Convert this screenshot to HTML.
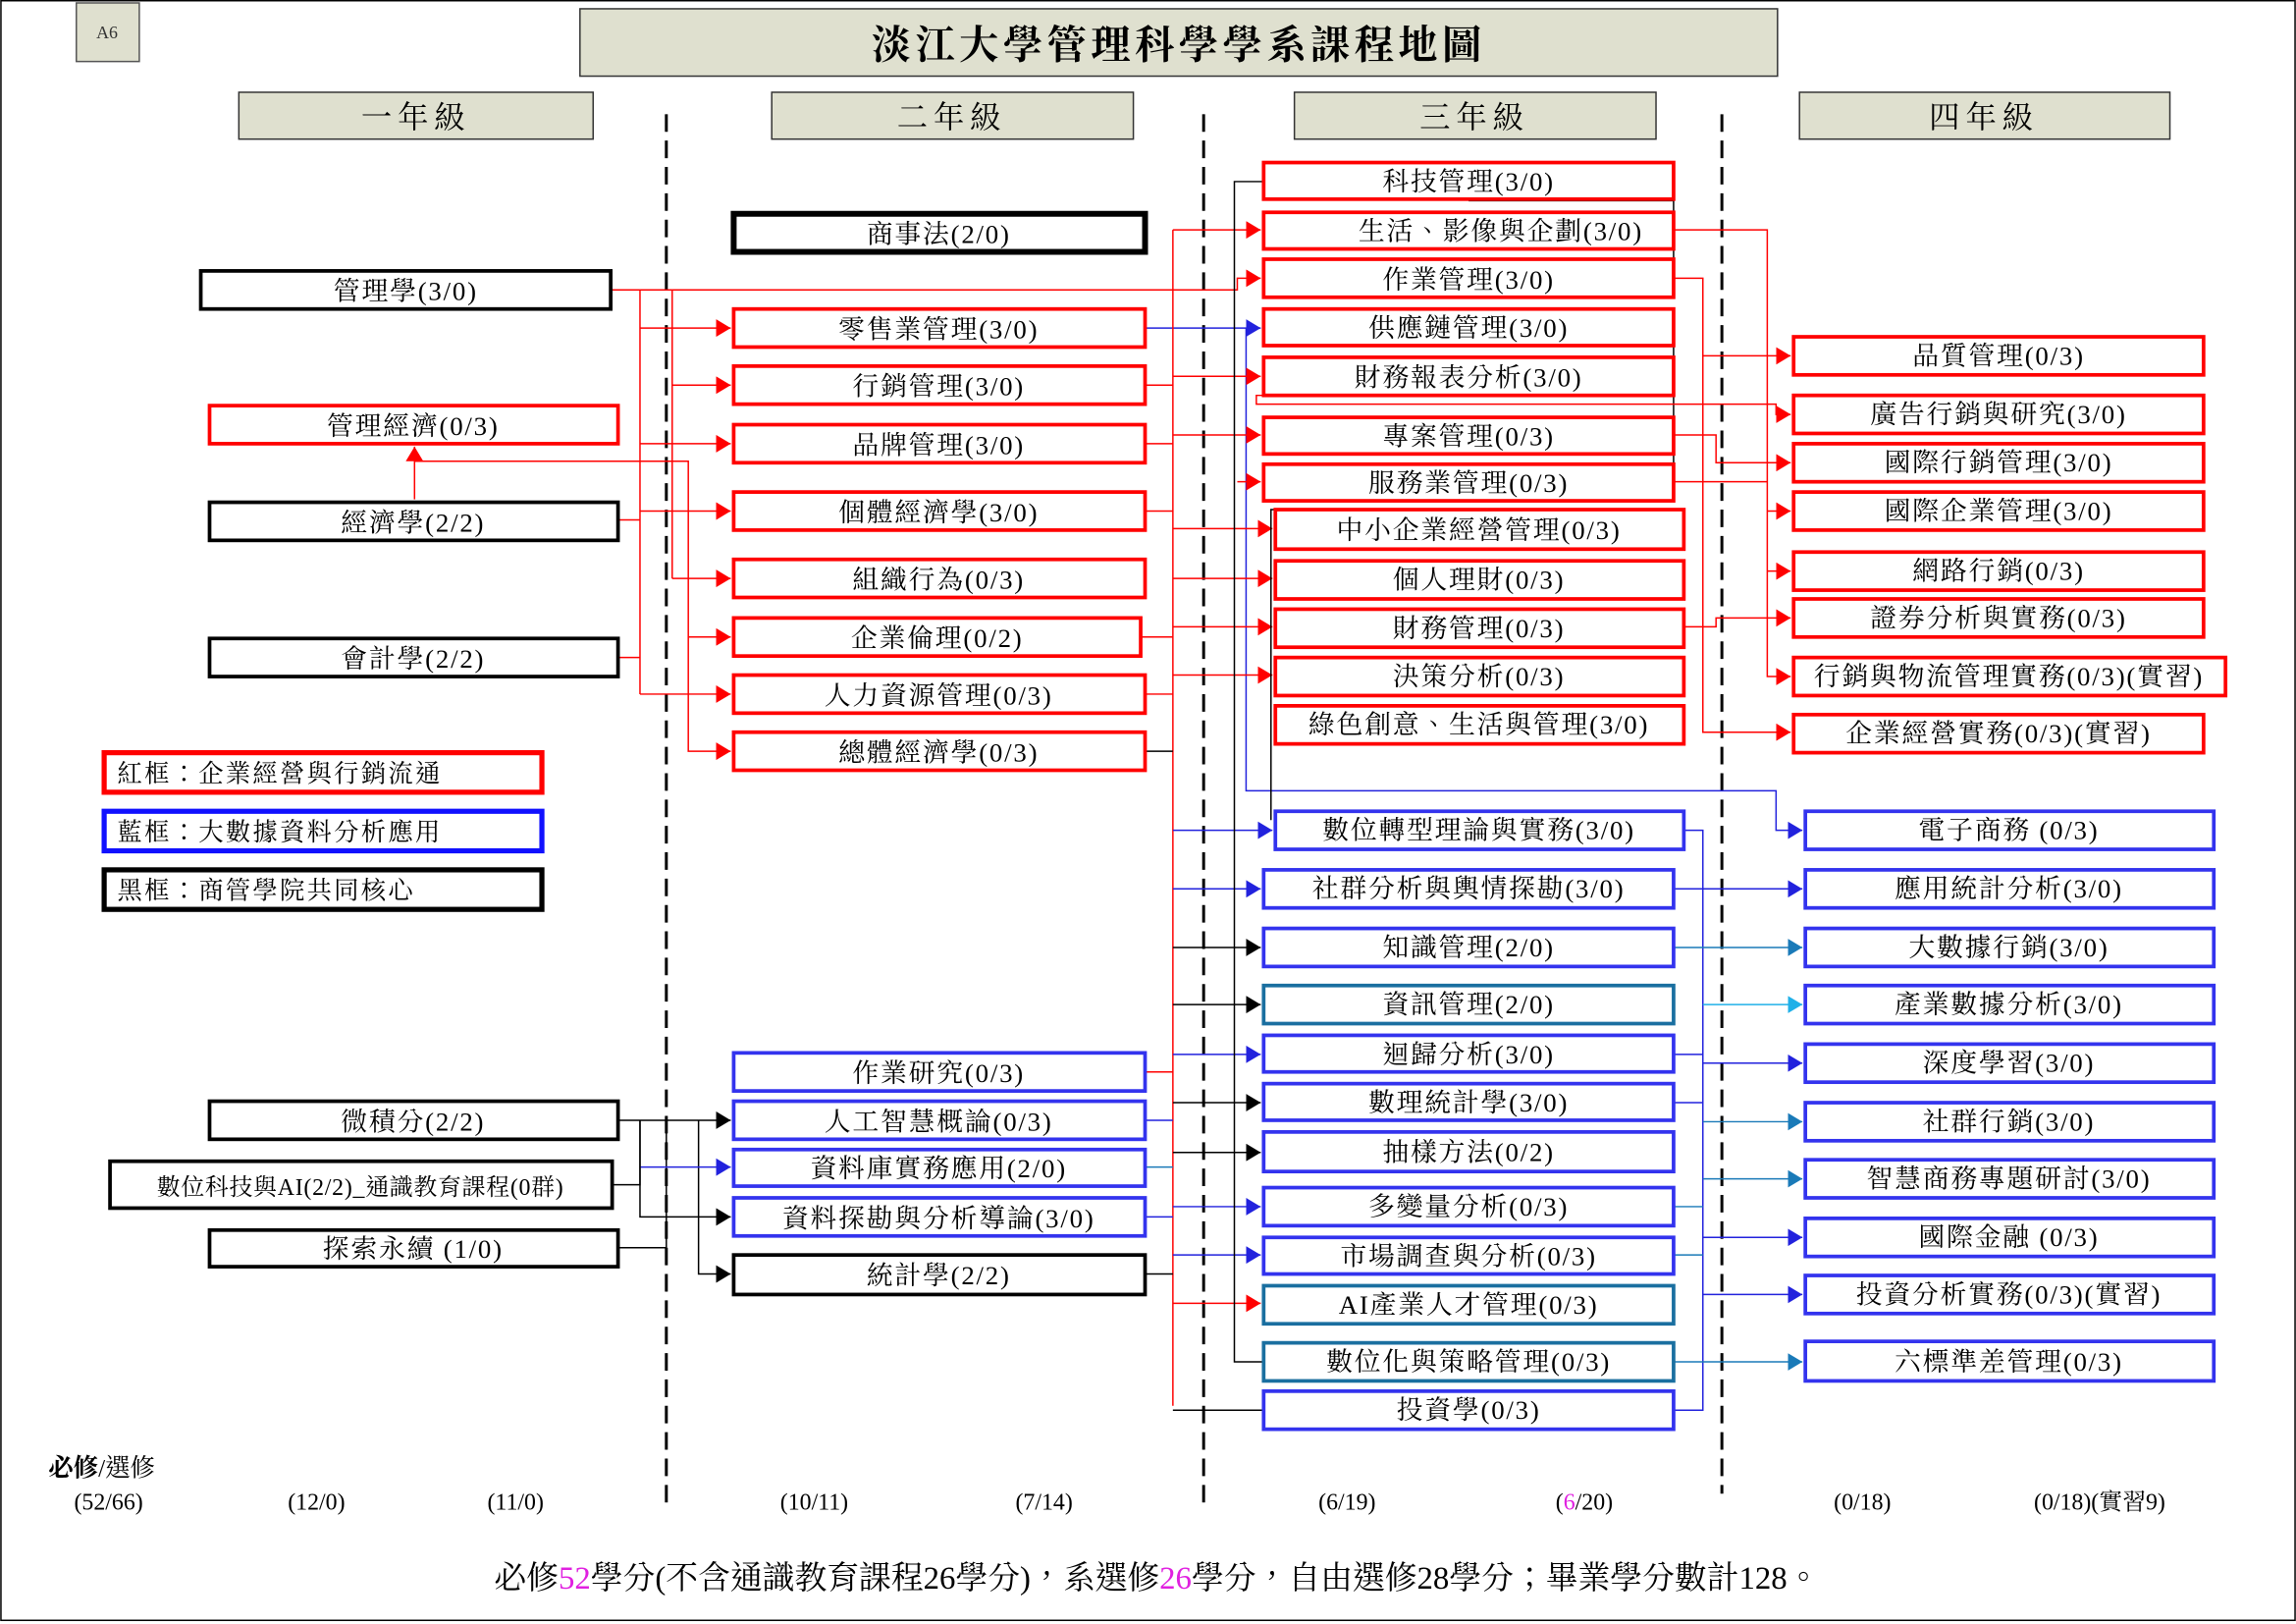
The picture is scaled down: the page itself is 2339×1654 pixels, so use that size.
<!DOCTYPE html>
<html><head><meta charset="utf-8"><style>
html,body{margin:0;padding:0;background:#fff;}
svg{display:block;}
text{font-family:"Liberation Serif","Noto Serif CJK TC","Noto Serif CJK SC",serif;}
.t{font-size:18px;text-anchor:middle;letter-spacing:1.2px;}
.h{font-size:21px;text-anchor:middle;letter-spacing:4px;}
.n{font-size:16px;text-anchor:middle;}
.l{font-size:17px;text-anchor:start;letter-spacing:1.5px;}
</style></head><body>
<svg width="2339" height="1654" viewBox="0 0 1568 1109" xmlns="http://www.w3.org/2000/svg">
<defs>
<marker id="ar" markerUnits="userSpaceOnUse" markerWidth="10" markerHeight="12" refX="10" refY="6" orient="auto"><path d="M0,0 L10,6 L0,12 z" fill="#f00"/></marker>
<marker id="ab" markerUnits="userSpaceOnUse" markerWidth="10" markerHeight="12" refX="10" refY="6" orient="auto"><path d="M0,0 L10,6 L0,12 z" fill="#2222dd"/></marker>
<marker id="ak" markerUnits="userSpaceOnUse" markerWidth="10" markerHeight="12" refX="10" refY="6" orient="auto"><path d="M0,0 L10,6 L0,12 z" fill="#000"/></marker>
<marker id="at" markerUnits="userSpaceOnUse" markerWidth="10" markerHeight="12" refX="10" refY="6" orient="auto"><path d="M0,0 L10,6 L0,12 z" fill="#1a7ab8"/></marker>
<marker id="ac" markerUnits="userSpaceOnUse" markerWidth="10" markerHeight="12" refX="10" refY="6" orient="auto"><path d="M0,0 L10,6 L0,12 z" fill="#20b0e8"/></marker>
</defs>
<rect x="0.5" y="0.5" width="1567" height="1106" fill="#fff" stroke="#000" stroke-width="1"/>
<rect x="52" y="2" width="43" height="40" fill="#dfe0cf" stroke="#555" stroke-width="1"/>
<text x="73" y="26" font-size="12" text-anchor="middle" fill="#333">A6</text>
<rect x="396" y="6" width="818" height="46" fill="#dfe0cf" stroke="#333" stroke-width="1"/>
<text x="805" y="40" font-size="27" font-weight="bold" text-anchor="middle" letter-spacing="3">淡江大學管理科學學系課程地圖</text>
<g fill="#dfe0cf" stroke="#333" stroke-width="1">
<rect x="163" y="63" width="242" height="32"/><rect x="527" y="63" width="247" height="32"/>
<rect x="884" y="63" width="247" height="32"/><rect x="1229" y="63" width="253" height="32"/>
</g>
<text class="h" x="284" y="87">一年級</text><text class="h" x="650" y="87">二年級</text>
<text class="h" x="1007" y="87">三年級</text><text class="h" x="1355" y="87">四年級</text>
<g stroke="#000" stroke-width="2" stroke-dasharray="12,6">
<line x1="455" y1="78" x2="455" y2="1030"/><line x1="822" y1="78" x2="822" y2="1030"/><line x1="1176" y1="78" x2="1176" y2="1020"/>
</g>
<g fill="none" stroke-width="1">
<path d="M417,198 H845 V190 H861" stroke="#f00" marker-end="url(#ar)"/>
<path d="M437,198 V474" stroke="#f00"/>
<path d="M437,224 H499" stroke="#f00" marker-end="url(#ar)"/>
<path d="M437,303 H499" stroke="#f00" marker-end="url(#ar)"/>
<path d="M437,474 H499" stroke="#f00" marker-end="url(#ar)"/>
<path d="M459,198 V395" stroke="#f00"/>
<path d="M459,263 H499" stroke="#f00" marker-end="url(#ar)"/>
<path d="M459,395 H499" stroke="#f00" marker-end="url(#ar)"/>
<path d="M283,341 V305" stroke="#f00" marker-end="url(#ar)"/>
<path d="M283,315 H470 V513 H499" stroke="#f00" marker-end="url(#ar)"/>
<path d="M422,355 H437 M437,349 H499" stroke="#f00" marker-end="url(#ar)"/>
<path d="M470,435 H499" stroke="#f00" marker-end="url(#ar)"/>
<path d="M422,449 H437" stroke="#f00"/>
<path d="M782,224 H861" stroke="#2222dd" marker-end="url(#ab)"/>
<path d="M851,224 V540 H1213 V567 H1231" stroke="#2222dd" marker-end="url(#ab)"/>
<path d="M801,157 V960" stroke="#f00"/>
<path d="M782,263 H801 M782,303 H801 M782,349 H801 M779,435 H801 M782,474 H801 M782,732 H801" stroke="#f00"/>
<path d="M782,513 H801 M782,870 H801 M801,963 H863" stroke="#000"/>
<path d="M782,765 H801 M782,831 H801" stroke="#2222dd"/>
<path d="M782,797 H801" stroke="#1a7ab8"/>
<path d="M801,157 H861" stroke="#f00" marker-end="url(#ar)"/>
<path d="M801,257 H861" stroke="#f00" marker-end="url(#ar)"/>
<path d="M801,297 H861" stroke="#f00" marker-end="url(#ar)"/>
<path d="M845,329 H861" stroke="#f00" marker-end="url(#ar)"/>
<path d="M801,361 H869" stroke="#f00" marker-end="url(#ar)"/>
<path d="M801,395 H869" stroke="#f00" marker-end="url(#ar)"/>
<path d="M801,428 H869" stroke="#f00" marker-end="url(#ar)"/>
<path d="M801,461 H869" stroke="#f00" marker-end="url(#ar)"/>
<path d="M801,890 H861" stroke="#f00" marker-end="url(#ar)"/>
<path d="M801,567 H869" stroke="#2222dd" marker-end="url(#ab)"/>
<path d="M801,607 H861" stroke="#2222dd" marker-end="url(#ab)"/>
<path d="M801,720 H861" stroke="#2222dd" marker-end="url(#ab)"/>
<path d="M801,824 H861" stroke="#2222dd" marker-end="url(#ab)"/>
<path d="M801,857 H861" stroke="#2222dd" marker-end="url(#ab)"/>
<path d="M801,647 H861" stroke="#000" marker-end="url(#ak)"/>
<path d="M801,686 H861" stroke="#000" marker-end="url(#ak)"/>
<path d="M801,753 H861" stroke="#000" marker-end="url(#ak)"/>
<path d="M801,787 H861" stroke="#000" marker-end="url(#ak)"/>
<path d="M863,124 H843 V930 H863" stroke="#000"/>
<path d="M1003,137 H1143 V182 M1143,236 V342 H863" stroke="#000"/>
<path d="M871,348 H868 V560" stroke="#000"/>
<path d="M863,270 H858 V276 H1143" stroke="#f00"/>
<path d="M1143,157 H1207 V462 H1223" stroke="#f00" marker-end="url(#ar)"/>
<path d="M1207,349 H1223" stroke="#f00" marker-end="url(#ar)"/>
<path d="M1207,390 H1223" stroke="#f00" marker-end="url(#ar)"/>
<path d="M1143,190 H1163 V500 H1223" stroke="#f00" marker-end="url(#ar)"/>
<path d="M1163,243 H1223" stroke="#f00" marker-end="url(#ar)"/>
<path d="M1143,276 H1213 V283 H1223" stroke="#f00" marker-end="url(#ar)"/>
<path d="M1143,297 H1172 V316 H1223" stroke="#f00" marker-end="url(#ar)"/>
<path d="M1143,329 H1207" stroke="#f00"/>
<path d="M1150,428 H1172 V422 H1223" stroke="#f00" marker-end="url(#ar)"/>
<path d="M1150,567 H1163 V607 H1231" stroke="#2222dd" marker-end="url(#ab)"/>
<path d="M1143,607 H1163 V963 H1143" stroke="#2222dd"/>
<path d="M1143,647 H1231" stroke="#1a7ab8" marker-end="url(#at)"/>
<path d="M1163,686 H1231" stroke="#20b0e8" marker-end="url(#ac)"/>
<path d="M1143,720 H1163 M1163,726 H1231" stroke="#2222dd" marker-end="url(#ab)"/>
<path d="M1143,753 H1163" stroke="#2222dd"/>
<path d="M1163,766 H1231" stroke="#1a7ab8" marker-end="url(#at)"/>
<path d="M1163,805 H1231" stroke="#1a7ab8" marker-end="url(#at)"/>
<path d="M1143,824 H1163 M1143,857 H1163" stroke="#1a7ab8"/>
<path d="M1163,845 H1231" stroke="#2222dd" marker-end="url(#ab)"/>
<path d="M1163,884 H1231" stroke="#2222dd" marker-end="url(#ab)"/>
<path d="M1143,930 H1231" stroke="#1a7ab8" marker-end="url(#at)"/>
<path d="M422,765 H499" stroke="#000" marker-end="url(#ak)"/>
<path d="M418,809 H437 V765 M422,852 H455 V765" stroke="#000"/>
<path d="M477,765 V870 H499" stroke="#000" marker-end="url(#ak)"/>
<path d="M437,797 H499" stroke="#2222dd" marker-end="url(#ab)"/>
<path d="M437,765 V831 H499" stroke="#000" marker-end="url(#ak)"/>
</g>
<g fill="#fff" stroke-width="2.5">
<rect x="137" y="185" width="280" height="26" stroke="#000"/>
<rect x="143" y="277" width="279" height="26" stroke="#f00"/>
<rect x="143" y="343" width="279" height="26" stroke="#000"/>
<rect x="143" y="436" width="279" height="26" stroke="#000"/>
<rect x="71" y="514" width="299" height="27" stroke="#f00" stroke-width="3.5"/>
<rect x="71" y="554" width="299" height="27" stroke="#1010ff" stroke-width="3.5"/>
<rect x="71" y="594" width="299" height="27" stroke="#000" stroke-width="3.5"/>
<rect x="143" y="752" width="279" height="26" stroke="#000"/>
<rect x="75" y="793" width="343" height="32" stroke="#000"/>
<rect x="143" y="840" width="279" height="25" stroke="#000"/>
<rect x="501" y="146" width="281" height="26" stroke="#000" stroke-width="4"/>
<rect x="501" y="211" width="281" height="26" stroke="#f00"/>
<rect x="501" y="250" width="281" height="26" stroke="#f00"/>
<rect x="501" y="290" width="281" height="26" stroke="#f00"/>
<rect x="501" y="336" width="281" height="26" stroke="#f00"/>
<rect x="501" y="382" width="281" height="26" stroke="#f00"/>
<rect x="501" y="422" width="278" height="26" stroke="#f00"/>
<rect x="501" y="461" width="281" height="26" stroke="#f00"/>
<rect x="501" y="500" width="281" height="26" stroke="#f00"/>
<rect x="501" y="719" width="281" height="26" stroke="#3333ee"/>
<rect x="501" y="752" width="281" height="26" stroke="#3333ee"/>
<rect x="501" y="785" width="281" height="25" stroke="#3333ee"/>
<rect x="501" y="818" width="281" height="26" stroke="#3333ee"/>
<rect x="501" y="857" width="281" height="27" stroke="#000"/>
<g stroke="#f00">
<rect x="863" y="111" width="280" height="25"/><rect x="863" y="145" width="280" height="25"/>
<rect x="863" y="177" width="280" height="26"/><rect x="863" y="211" width="280" height="25"/>
<rect x="863" y="244" width="280" height="26"/><rect x="863" y="285" width="280" height="25"/>
<rect x="863" y="317" width="280" height="25"/><rect x="871" y="348" width="279" height="27"/>
<rect x="871" y="383" width="279" height="26"/><rect x="871" y="416" width="279" height="26"/>
<rect x="871" y="449" width="279" height="26"/><rect x="871" y="482" width="279" height="26"/>
<rect x="1225" y="230" width="280" height="26"/><rect x="1225" y="270" width="280" height="26"/>
<rect x="1225" y="303" width="280" height="26"/><rect x="1225" y="336" width="280" height="26"/>
<rect x="1225" y="377" width="280" height="26"/><rect x="1225" y="409" width="280" height="26"/>
<rect x="1225" y="449" width="295" height="26"/><rect x="1225" y="488" width="280" height="26"/>
</g>
<g stroke="#3333ee">
<rect x="871" y="554" width="279" height="26"/><rect x="863" y="594" width="280" height="26"/>
<rect x="863" y="634" width="280" height="26"/><rect x="863" y="707" width="280" height="25"/>
<rect x="863" y="740" width="280" height="25"/><rect x="863" y="773" width="280" height="27"/>
<rect x="863" y="811" width="280" height="26"/><rect x="863" y="845" width="280" height="25"/>
<rect x="863" y="950" width="280" height="26"/>
<rect x="1233" y="554" width="279" height="26"/><rect x="1233" y="594" width="279" height="26"/>
<rect x="1233" y="634" width="279" height="26"/><rect x="1233" y="673" width="279" height="26"/>
<rect x="1233" y="713" width="279" height="26"/><rect x="1233" y="753" width="279" height="26"/>
<rect x="1233" y="792" width="279" height="26"/><rect x="1233" y="832" width="279" height="26"/>
<rect x="1233" y="871" width="279" height="26"/><rect x="1233" y="916" width="279" height="27"/>
</g>
<g stroke="#1a6fa0">
<rect x="863" y="673" width="280" height="26"/><rect x="863" y="878" width="280" height="26"/><rect x="863" y="917" width="280" height="26"/>
</g>
</g>
<text class="l" x="80" y="534">紅框：企業經營與行銷流通</text>
<text class="l" x="80" y="574">藍框：大數據資料分析應用</text>
<text class="l" x="80" y="614">黑框：商管學院共同核心</text>
<g>
<text class="t" x="277" y="205">管理學(3/0)</text>
<text class="t" x="282" y="297">管理經濟(0/3)</text>
<text class="t" x="282" y="363">經濟學(2/2)</text>
<text class="t" x="282" y="456">會計學(2/2)</text>
<text class="t" x="282" y="772">微積分(2/2)</text>
<text x="246" y="816" font-size="16" text-anchor="middle" letter-spacing="0.5">數位科技與AI(2/2)_通識教育課程(0群)</text>
<text class="t" x="282" y="859">探索永續 (1/0)</text>
<text class="t" x="641" y="166">商事法(2/0)</text>
<text class="t" x="641" y="231">零售業管理(3/0)</text>
<text class="t" x="641" y="270">行銷管理(3/0)</text>
<text class="t" x="641" y="310">品牌管理(3/0)</text>
<text class="t" x="641" y="356">個體經濟學(3/0)</text>
<text class="t" x="641" y="402">組織行為(0/3)</text>
<text class="t" x="640" y="442">企業倫理(0/2)</text>
<text class="t" x="641" y="481">人力資源管理(0/3)</text>
<text class="t" x="641" y="520">總體經濟學(0/3)</text>
<text class="t" x="641" y="739">作業研究(0/3)</text>
<text class="t" x="641" y="772">人工智慧概論(0/3)</text>
<text class="t" x="641" y="804">資料庫實務應用(2/0)</text>
<text class="t" x="641" y="838">資料探勘與分析導論(3/0)</text>
<text class="t" x="641" y="877">統計學(2/2)</text>
<text class="t" x="1003" y="130">科技管理(3/0)</text>
<text class="t" x="1025" y="164">生活、影像與企劃(3/0)</text>
<text class="t" x="1003" y="197">作業管理(3/0)</text>
<text class="t" x="1003" y="230">供應鏈管理(3/0)</text>
<text class="t" x="1003" y="264">財務報表分析(3/0)</text>
<text class="t" x="1003" y="304">專案管理(0/3)</text>
<text class="t" x="1003" y="336">服務業管理(0/3)</text>
<text class="t" x="1010" y="368">中小企業經營管理(0/3)</text>
<text class="t" x="1010" y="402">個人理財(0/3)</text>
<text class="t" x="1010" y="435">財務管理(0/3)</text>
<text class="t" x="1010" y="468">決策分析(0/3)</text>
<text class="t" x="1010" y="501">綠色創意、生活與管理(3/0)</text>
<text class="t" x="1010" y="573">數位轉型理論與實務(3/0)</text>
<text class="t" x="1003" y="613">社群分析與輿情探勘(3/0)</text>
<text class="t" x="1003" y="653">知識管理(2/0)</text>
<text class="t" x="1003" y="692">資訊管理(2/0)</text>
<text class="t" x="1003" y="726">迴歸分析(3/0)</text>
<text class="t" x="1003" y="759">數理統計學(3/0)</text>
<text class="t" x="1003" y="793">抽樣方法(0/2)</text>
<text class="t" x="1003" y="830">多變量分析(0/3)</text>
<text class="t" x="1003" y="864">市場調查與分析(0/3)</text>
<text class="t" x="1003" y="897">AI產業人才管理(0/3)</text>
<text class="t" x="1003" y="936">數位化與策略管理(0/3)</text>
<text class="t" x="1003" y="969">投資學(0/3)</text>
<text class="t" x="1365" y="249">品質管理(0/3)</text>
<text class="t" x="1365" y="289">廣告行銷與研究(3/0)</text>
<text class="t" x="1365" y="322">國際行銷管理(3/0)</text>
<text class="t" x="1365" y="355">國際企業管理(3/0)</text>
<text class="t" x="1365" y="396">網路行銷(0/3)</text>
<text class="t" x="1365" y="428">證券分析與實務(0/3)</text>
<text class="t" x="1372" y="468">行銷與物流管理實務(0/3)(實習)</text>
<text class="t" x="1365" y="507">企業經營實務(0/3)(實習)</text>
<text class="t" x="1372" y="573">電子商務 (0/3)</text>
<text class="t" x="1372" y="613">應用統計分析(3/0)</text>
<text class="t" x="1372" y="653">大數據行銷(3/0)</text>
<text class="t" x="1372" y="692">產業數據分析(3/0)</text>
<text class="t" x="1372" y="732">深度學習(3/0)</text>
<text class="t" x="1372" y="772">社群行銷(3/0)</text>
<text class="t" x="1372" y="811">智慧商務專題研討(3/0)</text>
<text class="t" x="1372" y="851">國際金融 (0/3)</text>
<text class="t" x="1372" y="890">投資分析實務(0/3)(實習)</text>
<text class="t" x="1372" y="936">六標準差管理(0/3)</text>
</g>
<text x="33" y="1008" font-size="17"><tspan font-weight="bold">必修</tspan>/選修</text>
<text class="n" x="74" y="1031">(52/66)</text><text class="n" x="216" y="1031">(12/0)</text>
<text class="n" x="352" y="1031">(11/0)</text><text class="n" x="556" y="1031">(10/11)</text>
<text class="n" x="713" y="1031">(7/14)</text><text class="n" x="920" y="1031">(6/19)</text>
<text class="n" x="1082" y="1031">(<tspan fill="#e020e0">6</tspan>/20)</text>
<text class="n" x="1272" y="1031">(0/18)</text><text class="n" x="1434" y="1031">(0/18)(實習9)</text>
<text x="790" y="1085" font-size="22" text-anchor="middle">必修<tspan fill="#e020e0">52</tspan>學分(不含通識教育課程26學分)，系選修<tspan fill="#e020e0">26</tspan>學分，自由選修28學分；畢業學分數計128。</text>
</svg>
</body></html>
